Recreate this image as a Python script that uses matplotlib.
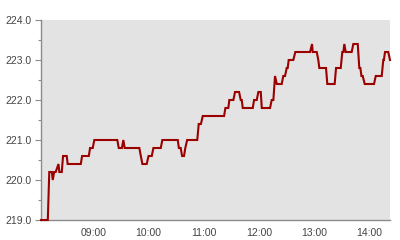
import matplotlib
matplotlib.use("Agg")
import matplotlib.pyplot as plt
import matplotlib.dates as mdates
from matplotlib.ticker import MultipleLocator, FormatStrFormatter
import pandas as pd

times = [
    "08:03:00", "08:10:24", "08:12:00", "08:14:48", "08:15:48", "08:17:18",
    "08:19:00", "08:22:00", "08:23:00", "08:25:36", "08:27:00", "08:31:00",
    "08:32:00", "08:46:18", "08:47:42", "08:55:00", "08:56:24", "08:59:18",
    "09:01:00", "09:26:00", "09:27:36", "09:31:00", "09:32:36", "09:34:00",
    "09:50:00", "09:51:36", "09:53:18", "09:58:00", "10:00:00", "10:03:30",
    "10:05:18", "10:13:18", "10:15:00", "10:31:48", "10:33:00", "10:35:00",
    "10:36:30", "10:38:36", "10:40:00", "10:42:00", "10:53:00", "10:54:36",
    "10:57:00", "10:59:00", "11:22:12", "11:23:36", "11:26:48", "11:27:54",
    "11:32:18", "11:34:06", "11:38:30", "11:40:18", "11:41:24", "11:42:30",
    "11:53:24", "11:54:48", "11:57:42", "11:59:30", "12:02:06", "12:03:12",
    "12:12:12", "12:14:00", "12:15:48", "12:17:36", "12:19:30", "12:24:54",
    "12:26:36", "12:28:30", "12:30:18", "12:31:24", "12:32:30", "12:37:30",
    "12:39:42", "12:55:42", "12:57:54", "12:58:36", "13:03:00", "13:04:42",
    "13:05:48", "13:13:06", "13:14:30", "13:22:30", "13:24:00", "13:29:06",
    "13:30:48", "13:32:00", "13:33:00", "13:34:30", "13:41:00", "13:42:48",
    "13:47:36", "13:49:18", "13:50:30", "13:51:36", "13:53:00", "13:55:12",
    "14:05:18", "14:07:12", "14:13:42", "14:15:24", "14:16:00", "14:17:18",
    "14:20:48", "14:22:42",
]
values = [
    219.0, 219.0, 220.2, 220.2, 220.0, 220.2,
    220.2, 220.4, 220.2, 220.2, 220.6, 220.6,
    220.4, 220.4, 220.6, 220.6, 220.8, 220.8,
    221.0, 221.0, 220.8, 220.8, 221.0, 220.8,
    220.8, 220.6, 220.4, 220.4, 220.6, 220.6,
    220.8, 220.8, 221.0, 221.0, 220.8, 220.8,
    220.6, 220.6, 220.8, 221.0, 221.0, 221.4,
    221.4, 221.6, 221.6, 221.8, 221.8, 222.0,
    222.0, 222.2, 222.2, 222.0, 222.0, 221.8,
    221.8, 222.0, 222.0, 222.2, 222.2, 221.8,
    221.8, 222.0, 222.0, 222.6, 222.4, 222.4,
    222.6, 222.6, 222.8, 222.8, 223.0, 223.0,
    223.2, 223.2, 223.4, 223.2, 223.2, 223.0,
    222.8, 222.8, 222.4, 222.4, 222.8, 222.8,
    223.2, 223.2, 223.4, 223.2, 223.2, 223.4,
    223.4, 222.8, 222.8, 222.6, 222.6, 222.4,
    222.4, 222.6, 222.6, 223.0, 223.0, 223.2,
    223.2, 223.0,
]
y_min, y_max = 219.0, 224.0

x = pd.to_datetime(["2024-01-02 " + t for t in times])

plt.rcParams['font.family'] = ['Liberation Sans', 'DejaVu Sans']
fig = plt.figure(figsize=(4, 2.4), dpi=100)
ax = fig.add_axes([41/400, 1 - 220/240, (390-41)/400, 200/240])
ax.set_facecolor('#e3e3e3')
ax.plot(x, values, color='#9b0000', lw=1.5, solid_joinstyle='miter', clip_on=False, zorder=3)

ax.set_xlim(x[0], x[-1])
ax.set_ylim(y_min, y_max)
ax.xaxis.set_major_locator(mdates.HourLocator())
ax.xaxis.set_major_formatter(mdates.DateFormatter('%H:%M'))
ax.yaxis.set_major_locator(MultipleLocator(1.0))
ax.yaxis.set_minor_locator(MultipleLocator(0.5))
ax.yaxis.set_major_formatter(FormatStrFormatter('%.1f'))

for s in ['top', 'right']:
    ax.spines[s].set_visible(False)
for s in ['left', 'bottom']:
    ax.spines[s].set_color('#8c8c8c')
    ax.spines[s].set_linewidth(1.0)

ax.tick_params(axis='y', which='major', length=4.2, width=0.8, color='#8c8c8c',
               labelsize=7.5, labelcolor='#444444', pad=2.5)
ax.tick_params(axis='y', which='minor', length=2.4, width=0.8, color='#8c8c8c')
ax.tick_params(axis='x', which='both', length=0, labelsize=7.5,
               labelcolor='#444444', pad=6)

fig.savefig('out.png', dpi=100)
